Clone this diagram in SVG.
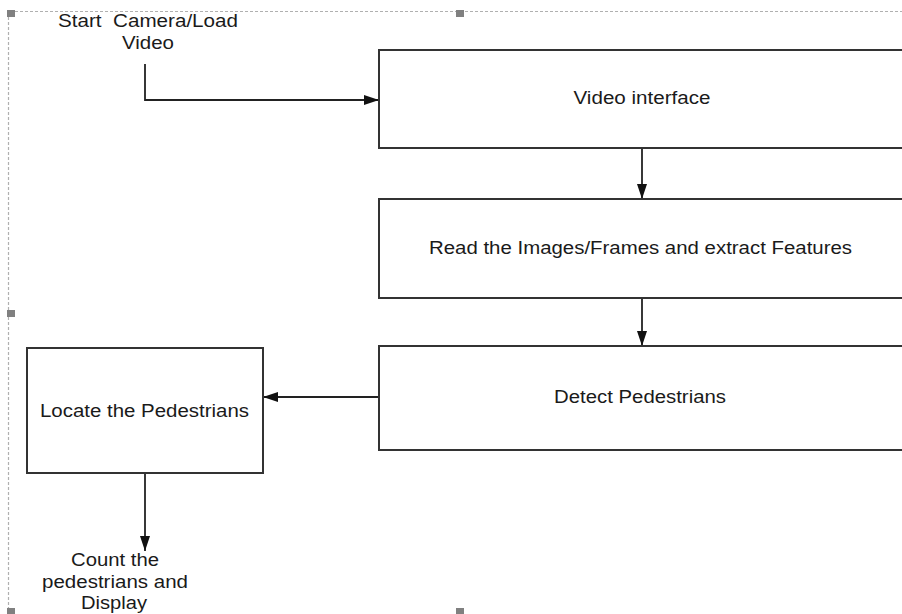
<svg xmlns="http://www.w3.org/2000/svg" width="902" height="614" viewBox="0 0 902 614">
  <style>
    .box { fill: #ffffff; stroke: #333333; stroke-width: 2; }
    .lbl { font-family: "Liberation Sans", Arial, sans-serif; font-size: 17.5px; fill: #1a1a1a; text-anchor: middle; }
    .edge { fill: none; stroke: #222222; stroke-width: 1.8; }
    .frame { fill: none; stroke: #b0b0b0; stroke-width: 1.2; stroke-dasharray: 3 2; }
    .handle { fill: #808080; }
  </style>
  <defs>
    <marker id="arrow" markerWidth="15" markerHeight="10" refX="15" refY="5" orient="auto" markerUnits="userSpaceOnUse">
      <path d="M0,0 L15,5 L0,10 Z" fill="#111111"/>
    </marker>
  </defs>
  <rect width="902" height="614" fill="#ffffff"/>

  <g id="selection-frame">
    <path class="frame" d="M8.5,620 L8.5,11.5 L910,11.5"/>
    <rect class="handle" x="7" y="10" width="8" height="7"/>
    <rect class="handle" x="456" y="10" width="8" height="7"/>
    <rect class="handle" x="7" y="310" width="8" height="7"/>
    <rect class="handle" x="7" y="608" width="8" height="7"/>
    <rect class="handle" x="456" y="608" width="8" height="7"/>
  </g>

  <g id="connectors">
    <path class="edge" d="M145,64 L145,100 L379,100" marker-end="url(#arrow)"/>
    <path class="edge" d="M642,148 L642,199" marker-end="url(#arrow)"/>
    <path class="edge" d="M642,298 L642,346" marker-end="url(#arrow)"/>
    <path class="edge" d="M379,397 L263,397" marker-end="url(#arrow)"/>
    <path class="edge" d="M145,473 L145,551" marker-end="url(#arrow)"/>
  </g>

  <g id="start">
    <text class="lbl" x="148" y="27" xml:space="preserve" textLength="180" lengthAdjust="spacingAndGlyphs">Start  Camera/Load</text>
    <text class="lbl" x="148" y="49" textLength="52" lengthAdjust="spacingAndGlyphs">Video</text>
  </g>

  <g id="video-interface">
    <rect class="box" x="379" y="50" width="530" height="98"/>
    <text class="lbl" x="642" y="104" textLength="137" lengthAdjust="spacingAndGlyphs">Video interface</text>
  </g>

  <g id="read-frames">
    <rect class="box" x="379" y="199" width="530" height="99"/>
    <text class="lbl" x="640.5" y="254" textLength="423" lengthAdjust="spacingAndGlyphs">Read the Images/Frames and extract Features</text>
  </g>

  <g id="detect">
    <rect class="box" x="379" y="346" width="530" height="104"/>
    <text class="lbl" x="640" y="403" textLength="172" lengthAdjust="spacingAndGlyphs">Detect Pedestrians</text>
  </g>

  <g id="locate">
    <rect class="box" x="27" y="348" width="236" height="125"/>
    <text class="lbl" x="144.5" y="417" textLength="209" lengthAdjust="spacingAndGlyphs">Locate the Pedestrians</text>
  </g>

  <g id="count">
    <text class="lbl" x="115" y="566" textLength="88" lengthAdjust="spacingAndGlyphs">Count the</text>
    <text class="lbl" x="115" y="587.5" textLength="146" lengthAdjust="spacingAndGlyphs">pedestrians and</text>
    <text class="lbl" x="114" y="609" textLength="66" lengthAdjust="spacingAndGlyphs">Display</text>
  </g>
</svg>
